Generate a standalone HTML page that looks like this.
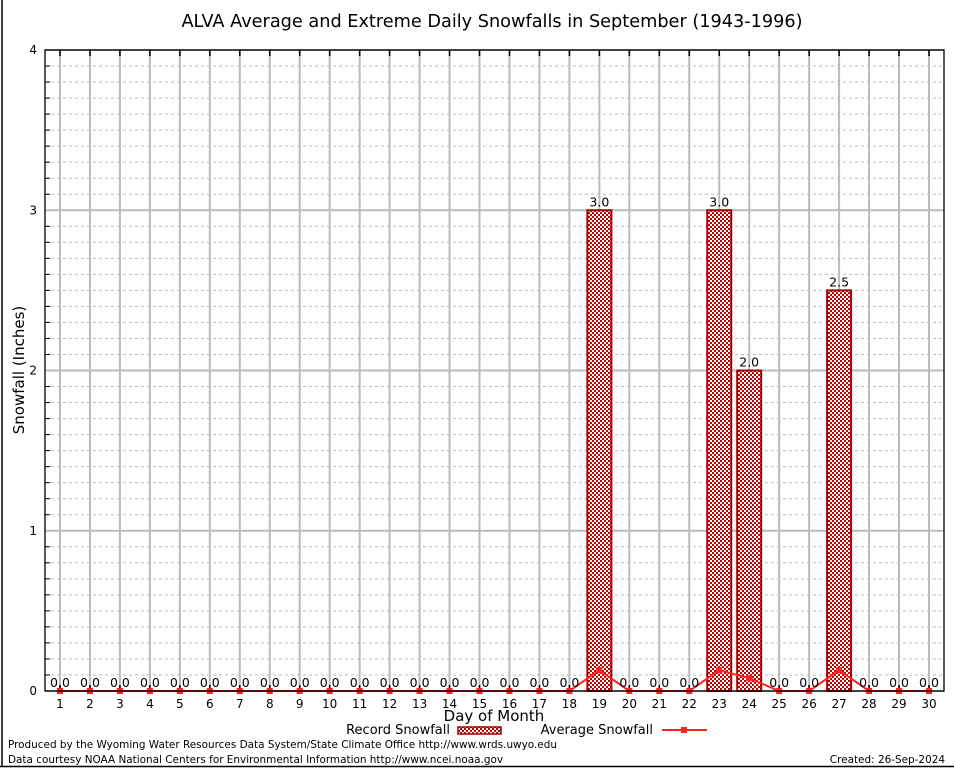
<!DOCTYPE html>
<html><head><meta charset="utf-8"><style>
body{margin:0;background:#fff}
svg text{font-family:"DejaVu Sans","Liberation Sans",sans-serif}
</style></head><body>
<svg id="c" width="954" height="768" xmlns="http://www.w3.org/2000/svg">
<defs>
<pattern id="chk" width="4" height="4" patternUnits="userSpaceOnUse">
<rect width="4" height="4" fill="#fff"/><rect width="2" height="2" fill="#c00000"/><rect x="2" y="2" width="2" height="2" fill="#c00000"/>
</pattern>
</defs>
<rect x="0" y="0" width="954" height="768" fill="#fff"/>
<line x1="2" y1="0" x2="2" y2="767" stroke="#000" stroke-width="1.5"/>
<line x1="0" y1="766.5" x2="954" y2="766.5" stroke="#000" stroke-width="1.5"/>
<text x="492" y="27" font-size="17.7" text-anchor="middle">ALVA Average and Extreme Daily Snowfalls in September (1943-1996)</text>
<g id="grid"></g>
<g id="bars"></g>
<g id="avg"></g>
<g id="labels"></g>
<rect x="45" y="50" width="899" height="641" fill="none" stroke="#000" stroke-width="1.3"/>
<text x="24" y="370" font-size="15" text-anchor="middle" transform="rotate(-90 24 370)">Snowfall (Inches)</text>
<text x="494" y="721" font-size="15" text-anchor="middle">Day of Month</text>
<g>
<text x="450" y="734" font-size="13" text-anchor="end">Record Snowfall</text>
<rect x="458" y="727" width="43" height="7" fill="url(#chk)" stroke="#a00000" stroke-width="1.5"/>
<text x="653" y="734" font-size="13" text-anchor="end">Average Snowfall</text>
<line x1="662" y1="730" x2="707" y2="730" stroke="#f22" stroke-width="2"/>
<rect x="681" y="727" width="6" height="6" fill="#f22"/>
</g>
<text x="8" y="748" font-size="10.45">Produced by the Wyoming Water Resources Data System/State Climate Office http://www.wrds.uwyo.edu</text>
<text x="8" y="763" font-size="10.45">Data courtesy NOAA National Centers for Environmental Information http://www.ncei.noaa.gov</text>
<text x="945" y="763" font-size="10.45" text-anchor="end">Created:  26-Sep-2024</text>
</svg>
<script>
const days=[1,2,3,4,5,6,7,8,9,10,11,12,13,14,15,16,17,18,19,20,21,22,23,24,25,26,27,28,29,30];
const recordValues=[0,0,0,0,0,0,0,0,0,0,0,0,0,0,0,0,0,0,3.0,0,0,0,3.0,2.0,0,0,2.5,0,0,0];
const averageValues=[0,0,0,0,0,0,0,0,0,0,0,0,0,0,0,0,0,0,0.13,0,0,0,0.13,0.08,0,0,0.13,0,0,0];
const yTicks=[0,1,2,3,4];
const NS='http://www.w3.org/2000/svg';
const X0=45,X1=944,Y0=691,Y1=50,YMAX=4;
const x=d=>60+(d-1)*(929-60)/29;
const y=v=>Y0-(v/YMAX)*(Y0-Y1);
function mk(p,t,a){const e=document.createElementNS(NS,t);for(const k in a)e.setAttribute(k,a[k]);p.appendChild(e);return e;}
const g=document.getElementById('grid');
for(let i=1;i<40;i++){if(i%10===0)continue;const l=mk(g,'line',{x1:X0,x2:X1,y1:y(i/10),y2:y(i/10),stroke:'#bbb','stroke-dasharray':'3,3','stroke-width':1});


mk(g,'line',{x1:X0,x2:X0+5,y1:y(i/10),y2:y(i/10),stroke:'#000'});}
yTicks.forEach(t=>{const l=mk(g,'line',{x1:X0,x2:X1,y1:y(t),y2:y(t),stroke:'#bbb','stroke-width':2});


const tx=mk(g,'text',{x:37,y:y(t)+4,'font-size':12,'text-anchor':'end'});tx.textContent=t;

});
days.forEach(d=>{const l=mk(g,'line',{x1:x(d),x2:x(d),y1:Y1,y2:Y0,stroke:'#bbb','stroke-width':2});


mk(g,'line',{x1:x(d),x2:x(d),y1:Y1,y2:Y1+6,stroke:'#000','stroke-width':1.5});
mk(g,'line',{x1:x(d),x2:x(d),y1:Y0,y2:Y0-6,stroke:'#000','stroke-width':1.5});
const t=mk(g,'text',{x:x(d),y:Y0+17,'font-size':12,'text-anchor':'middle','font-family':'Liberation Serif,serif'});t.textContent=d;

});
const b=document.getElementById('bars'),L=document.getElementById('labels');
days.forEach((d,i)=>{const v=recordValues[i];
if(v>0){const r=mk(b,'rect',{x:x(d)-12,y:y(v),width:24,height:Y0-y(v),fill:'url(#chk)',stroke:'#a00000','stroke-width':2});

}
const t=mk(L,'text',{x:x(d),y:y(v)-4,'font-size':12.5,'text-anchor':'middle'});t.textContent=v.toFixed(1);

});
const a=document.getElementById('avg');
const pl=mk(a,'polyline',{points:days.map((d,i)=>x(d)+','+y(averageValues[i])).join(' '),fill:'none',stroke:'#f22','stroke-width':2});


days.forEach((d,i)=>{const m=mk(a,'rect',{x:x(d)-3,y:y(averageValues[i])-3,width:6,height:6,fill:'#f22'});

});
</script>
</body></html>
